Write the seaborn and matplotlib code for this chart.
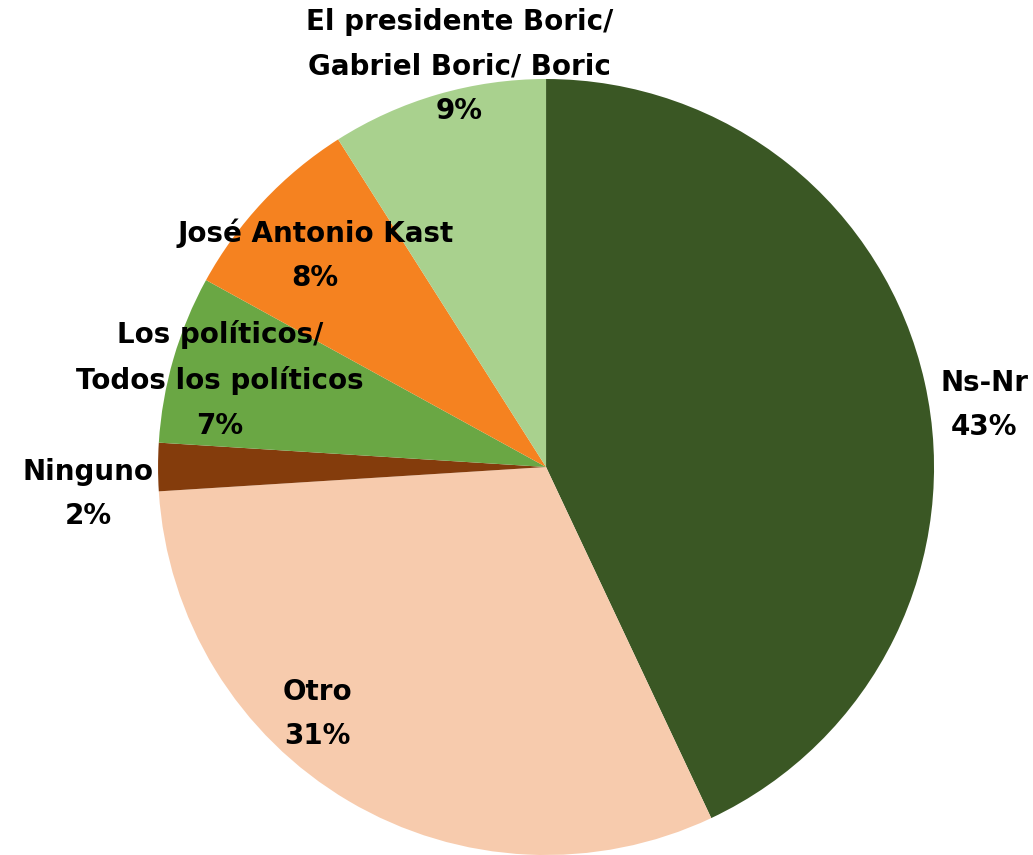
import matplotlib
matplotlib.use("Agg")
import matplotlib.pyplot as plt
import seaborn as sns

# === Data ===
labels = [
    "Ns-Nr",
    "Otro",
    "Ninguno",
    "Los políticos/\nTodos los políticos",
    "José Antonio Kast",
    "El presidente Boric/\nGabriel Boric/ Boric",
]
values = [43, 31, 2, 7, 8, 9]
colors = ["#3A5724", "#F7CBAD", "#843C0C", "#6AA744", "#F58220", "#A9D18E"]

# label anchor points (in pie-radius units)
label_pos = [
    (1.13, 0.16),
    (-0.59, -0.637),
    (-1.18, -0.07),
    (-0.84, 0.224),
    (-0.595, 0.546),
    (-0.224, 1.031),
]

# === Style ===
sns.set_theme(style="white")
plt.rcParams["font.family"] = ["DejaVu Sans"]

fig = plt.figure(figsize=(10.33, 8.55), dpi=100)
ax = fig.add_axes([0.153, 0.0, 0.7512, 0.9076])

wedges, _ = ax.pie(
    values,
    colors=colors,
    startangle=90,
    counterclock=False,
    radius=1,
    wedgeprops=dict(linewidth=0),
)

for lab, val, (x, y) in zip(labels, values, label_pos):
    ax.text(x, y, f"{lab}\n{val}%", ha="center", va="center",
            fontsize=20, fontweight="bold", color="black",
            linespacing=1.75, clip_on=False)

ax.set_xlim(-1, 1)
ax.set_ylim(-1, 1)
ax.set_aspect("equal")
ax.axis("off")

fig.savefig("out.png", dpi=100, facecolor="white")
